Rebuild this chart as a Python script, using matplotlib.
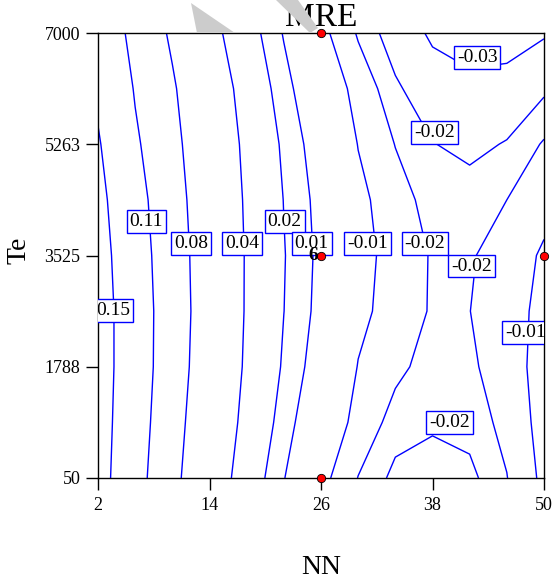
import matplotlib
matplotlib.use('Agg')
import matplotlib.pyplot as plt
from matplotlib.patches import Polygon
import numpy as np

plt.rcParams['font.family'] = ['Liberation Serif', 'DejaVu Serif']

# grid (NN across, Te down the rows)
nn_grid = [2, 6, 10, 14, 18, 22, 26, 30, 34, 38, 42, 46, 50]
te_grid = [50, 918.75, 1787.5, 2656.25, 3525, 4393.75, 5262.5, 6131.25, 7000]
mre = [
    [0.1650, 0.1207, 0.0877, 0.0556, 0.0291, 0.0105, -0.0071, -0.0182, -0.0245, -0.0255, -0.0245, -0.0182, -0.0080],
    [0.1667, 0.1237, 0.0905, 0.0606, 0.0335, 0.0149, -0.0011, -0.0134, -0.0205, -0.0222, -0.0210, -0.0162, -0.0067],
    [0.1680, 0.1261, 0.0931, 0.0644, 0.0367, 0.0184, 0.0035, -0.0104, -0.0164, -0.0205, -0.0195, -0.0134, -0.0071],
    [0.1680, 0.1261, 0.0939, 0.0661, 0.0380, 0.0201, 0.0063, -0.0075, -0.0140, -0.0187, -0.0181, -0.0130, -0.0080],
    [0.1650, 0.1238, 0.0928, 0.0655, 0.0382, 0.0206, 0.0071, -0.0064, -0.0137, -0.0186, -0.0188, -0.0143, -0.0089],
    [0.1600, 0.1203, 0.0907, 0.0634, 0.0371, 0.0197, 0.0060, -0.0075, -0.0151, -0.0205, -0.0205, -0.0180, -0.0127],
    [0.1530, 0.1140, 0.0873, 0.0602, 0.0351, 0.0178, 0.0033, -0.0103, -0.0182, -0.0228, -0.0245, -0.0226, -0.0174],
    [0.1440, 0.1080, 0.0832, 0.0552, 0.0317, 0.0139, -0.0012, -0.0136, -0.0220, -0.0270, -0.0280, -0.0275, -0.0240],
    [0.1325, 0.1017, 0.0759, 0.0473, 0.0265, 0.0092, -0.0073, -0.0188, -0.0262, -0.0310, -0.0335, -0.0330, -0.0307],
]

levels = [-0.03, -0.023, -0.018, -0.01, 0.01, 0.02, 0.04, 0.08, 0.11, 0.15]
level_text = ['-0.03', '-0.02', '-0.02', '-0.01', '0.01', '0.02', '0.04', '0.08', '0.11', '0.15']

# design points
pts_nn = [26, 26, 26, 50]
pts_te = [7000, 3525, 50, 3525]

xticks = [2, 14, 26, 38, 50]
yticks = [50, 1788, 3525, 5263, 7000]

# where the boxed labels sit (NN, Te)
label_pos = [(3.6, 2666), (7.2, 4056), (12.0, 3712), (17.5, 3712), (22.1, 4056),
             (25.0, 3712), (31.0, 3712), (37.2, 3712), (42.2, 3361), (48.0, 2322),
             (42.8, 6617), (38.2, 5446), (39.8, 917)]

fig = plt.figure(figsize=(5.55, 5.81), dpi=100)
ax = fig.add_axes([98 / 555, 103 / 581, 446 / 555, 445 / 581])

cs = ax.contour(nn_grid, te_grid, np.array(mre), levels=levels, colors='#0000ff',
                linewidths=1, linestyles='solid')
texts = ax.clabel(cs, levels, manual=label_pos, inline=False,
                  fmt=dict(zip(levels, level_text)), fontsize=14, colors='black')
for t, pos in zip(texts, label_pos):
    t.set_rotation(0)
    t.set_position(pos)
    t.set_ha('center')
    t.set_va('center')
    t.set_bbox(dict(boxstyle='square,pad=0.15', fc='white', ec='#0000ff', lw=1))
    t.set_zorder(4)

ax.plot(pts_nn, pts_te, 'o', color='red', mec='black', mew=0.6, ms=6, clip_on=False, zorder=6)
ax.annotate('6', (26, 3525), xytext=(-2, 0), textcoords='offset points', ha='right', va='center',
            fontsize=14, fontweight='bold', zorder=7)

ax.set_xlim(2, 50)
ax.set_ylim(50, 7000)
ax.set_xticks(xticks)
ax.set_yticks(yticks)
ax.tick_params(direction='out', length=8.6, width=1, labelsize=13)
ax.tick_params(axis='x', pad=5)
ax.tick_params(axis='y', pad=4)
for s in ax.spines.values():
    s.set_linewidth(1)

ax.set_title('MRE', fontsize=24, pad=0)
fig.text(321 / 555, 1 - 568 / 581, 'NN', ha='center', va='center', fontsize=20)
fig.text(19 / 555, 1 - 250 / 581, 'Te', ha='center', va='center', fontsize=20, rotation=90)

# faint grey watermark fragments above the plot
for verts in [[(191, 3), (197, 33), (235, 33)], [(276, 0), (298, 0), (318, 28), (310, 33)]]:
    fig.patches.append(Polygon([(x / 555, 1 - y / 581) for x, y in verts], closed=True,
                               transform=fig.transFigure, fc='#cccccc', ec='none', zorder=0))

fig.savefig('out.png', dpi=100)
